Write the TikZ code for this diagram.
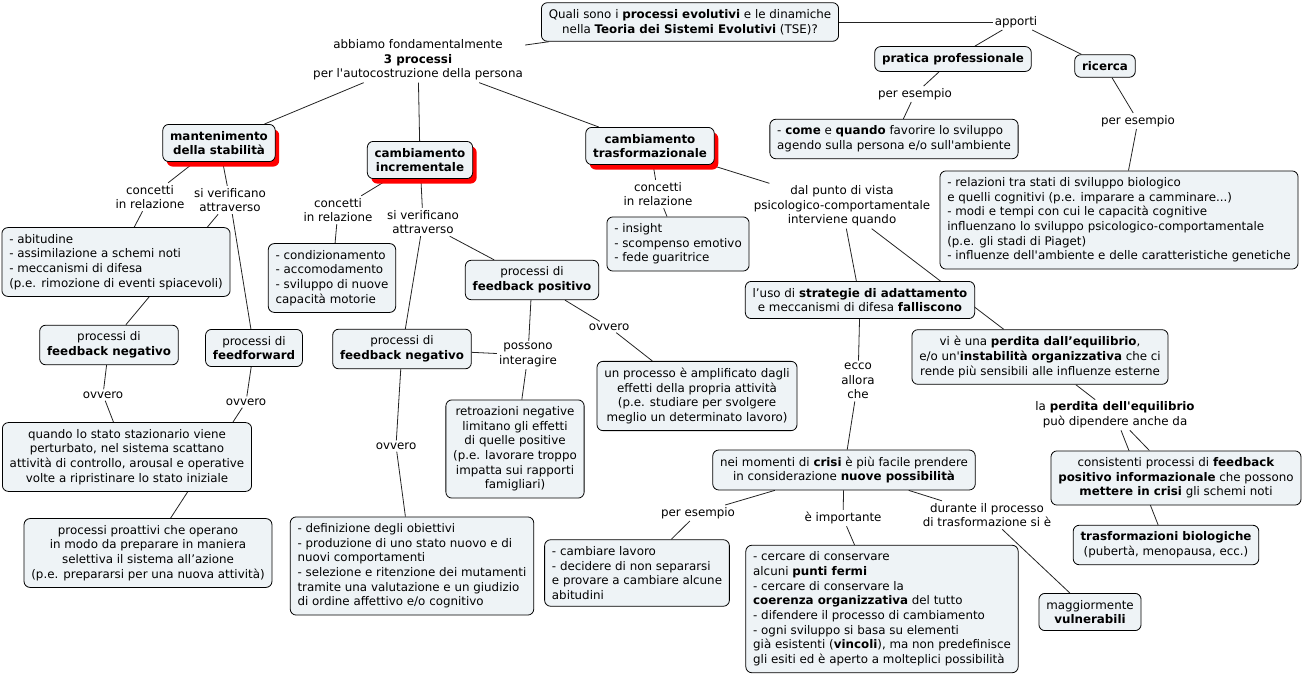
\documentclass[tikz,border=0pt]{standalone}
\usepackage{fontspec}
\newfontfamily\cmapfont{DejaVu Sans}
\usetikzlibrary{shadows,backgrounds}
\definecolor{cmapfill}{RGB}{238,243,246}
\definecolor{cmapline}{RGB}{35,35,35}

\begin{document}
\begin{tikzpicture}[x=0.75pt,y=-0.75pt,
  font=\cmapfont\fontsize{8.9}{11}\selectfont,
  concept/.style={draw, fill=cmapfill, rounded corners=4.5pt, align=center,
    inner xsep=5.5pt, inner ysep=5pt, line width=0.6pt},
  leftconcept/.style={concept, align=left},
  process/.style={concept, drop shadow={shadow xshift=3pt, shadow yshift=-3.75pt,
    fill=red, opacity=1}},
  linkphrase/.style={align=center, inner sep=1.5pt},
  link/.style={draw=cmapline, line width=0.6pt}]
\useasboundingbox (0,0) rectangle (1306,677);

% question and contributions
\node[concept] (quest) at (690,22) {Quali sono i \textbf{processi evolutivi} e le dinamiche\\nella \textbf{Teoria dei Sistemi Evolutivi} (TSE)?};
\node[linkphrase] (treproc) at (418,60) {abbiamo fondamentalmente\\\textbf{3 processi}\\per l'autocostruzione della persona};
\node[linkphrase] (apporti) at (1016,22) {apporti};
\node[concept] (pratica) at (953,59) {\textbf{pratica professionale}};
\node[concept] (ricerca) at (1105,66) {\textbf{ricerca}};
\node[linkphrase] (esprat) at (915,94) {per esempio};
\node[linkphrase] (esric) at (1138,121) {per esempio};
\node[leftconcept] (comequando) at (894,139) {- \textbf{come} e \textbf{quando} favorire lo sviluppo\\agendo sulla persona e/o sull'ambiente};
\node[leftconcept] (relazioni) at (1119,220) {- relazioni tra stati di sviluppo biologico\\e quelli cognitivi (p.e. imparare a camminare...)\\- modi e tempi con cui le capacità cognitive\\influenzano lo sviluppo psicologico-comportamentale\\(p.e. gli stadi di Piaget)\\- influenze dell'ambiente e delle caratteristiche genetiche};

% the three processes
\node[process] (mant) at (219,143) {\textbf{mantenimento}\\\textbf{della stabilità}};
\node[process] (incr) at (420,160) {\textbf{cambiamento}\\\textbf{incrementale}};
\node[process] (trasf) at (650,146) {\textbf{cambiamento}\\\textbf{trasformazionale}};

% mantenimento della stabilita'
\node[linkphrase] (relmant) at (150,197) {concetti\\in relazione};
\node[linkphrase] (vermant) at (230,200) {si verificano\\attraverso};
\node[leftconcept] (abitudine) at (116,262) {- abitudine\\- assimilazione a schemi noti\\- meccanismi di difesa\\(p.e. rimozione di eventi spiacevoli)};
\node[concept] (fbnegmant) at (109,345) {processi di\\\textbf{feedback negativo}};
\node[concept] (ffwd) at (254,348) {processi di\\\textbf{feedforward}};
\node[linkphrase] (ovvneg) at (103,395) {ovvero};
\node[linkphrase] (ovvffwd) at (246,402) {ovvero};
\node[concept] (stazion) at (127,457) {quando lo stato stazionario viene\\perturbato, nel sistema scattano\\attività di controllo, arousal e operative\\volte a ripristinare lo stato iniziale};
\node[concept] (proatt) at (148,553) {processi proattivi che operano\\in modo da preparare in maniera\\selettiva il sistema all’azione\\(p.e. prepararsi per una nuova attività)};

% cambiamento incrementale
\node[linkphrase] (relincr) at (338,210) {concetti\\in relazione};
\node[linkphrase] (verincr) at (423,222) {si verificano\\attraverso};
\node[leftconcept] (condiz) at (332,278) {- condizionamento\\- accomodamento\\- sviluppo di nuove\\capacità motorie};
\node[concept] (fbnegincr) at (402,349) {processi di\\\textbf{feedback negativo}};
\node[concept] (fbpos) at (532,280) {processi di\\\textbf{feedback positivo}};
\node[linkphrase] (interag) at (528,355) {possono\\interagire};
\node[linkphrase] (ovvpos) at (609,327) {ovvero};
\node[linkphrase] (ovvincr) at (396,446) {ovvero};
\node[concept] (amplif) at (697,396) {un processo è amplificato dagli\\effetti della propria attività\\(p.e. studiare per svolgere\\meglio un determinato lavoro)};
\node[concept] (retro) at (515,449) {retroazioni negative\\limitano gli effetti\\di quelle positive\\(p.e. lavorare troppo\\impatta sui rapporti\\famigliari)};
\node[leftconcept] (obiett) at (412,566) {- definizione degli obiettivi\\- produzione di uno stato nuovo e di\\nuovi comportamenti\\- selezione e ritenzione dei mutamenti\\tramite una valutazione e un giudizio\\di ordine affettivo e/o cognitivo};

% cambiamento trasformazionale
\node[linkphrase] (reltrasf) at (658,194) {concetti\\in relazione};
\node[leftconcept] (insight) at (678,244) {- insight\\- scompenso emotivo\\- fede guaritrice};
\node[linkphrase] (puntovista) at (842,206) {dal punto di vista\\psicologico-comportamentale\\interviene quando};
\node[concept] (strategie) at (860,300) {l’uso di \textbf{strategie di adattamento}\\e meccanismi di difesa \textbf{falliscono}};
\node[concept] (perdita) at (1040,357) {vi è una \textbf{perdita dall’equilibrio},\\e/o un'\textbf{instabilità organizzativa} che ci\\rende più sensibili alle influenze esterne};
\node[linkphrase] (ecco) at (858,381) {ecco\\allora\\che};
\node[linkphrase] (dipende) at (1115,415) {la \textbf{perdita dell'equilibrio}\\può dipendere anche da};
\node[concept] (consist) at (1176,478) {consistenti processi di \textbf{feedback}\\\textbf{positivo informazionale} che possono\\\textbf{mettere in crisi} gli schemi noti};
\node[concept] (biolog) at (1166,545) {\textbf{trasformazioni biologiche}\\(pubertà, menopausa, ecc.)};
\node[concept] (crisi) at (844,470) {nei momenti di \textbf{crisi} è più facile prendere\\in considerazione \textbf{nuove possibilità}};
\node[linkphrase] (escrisi) at (698,513) {per esempio};
\node[linkphrase] (importa) at (843,518) {è importante};
\node[linkphrase] (durante) at (987,515) {durante il processo\\di trasformazione si è};
\node[leftconcept] (cambiare) at (637,573) {- cambiare lavoro\\- decidere di non separarsi\\e provare a cambiare alcune\\abitudini};
\node[leftconcept] (conserv) at (882,609) {- cercare di conservare\\alcuni \textbf{punti fermi}\\- cercare di conservare la\\\textbf{coerenza organizzativa} del tutto\\- difendere il processo di cambiamento\\- ogni sviluppo si basa su elementi\\già esistenti (\textbf{vincoli}), ma non predefinisce\\gli esiti ed è aperto a molteplici possibilità};
\node[concept] (vulner) at (1090,612) {maggiormente\\\textbf{vulnerabili}};

\begin{pgfonlayer}{background}
\foreach \from/\to in {quest/treproc, treproc/mant, treproc/incr, treproc/trasf,
  quest/apporti, apporti/pratica, apporti/ricerca, pratica/esprat, esprat/comequando,
  ricerca/esric, esric/relazioni,
  mant/relmant, relmant/abitudine, mant/vermant, vermant/fbnegmant, vermant/ffwd,
  fbnegmant/ovvneg, ovvneg/stazion, ffwd/ovvffwd, ovvffwd/proatt,
  incr/relincr, relincr/condiz, incr/verincr, verincr/fbnegincr, verincr/fbpos,
  fbpos/interag, fbnegincr/interag, interag/retro, fbpos/ovvpos, ovvpos/amplif,
  fbnegincr/ovvincr, ovvincr/obiett,
  trasf/reltrasf, reltrasf/insight, trasf/puntovista, puntovista/strategie, puntovista/perdita,
  strategie/ecco, ecco/crisi, perdita/dipende, dipende/consist, dipende/biolog,
  crisi/escrisi, escrisi/cambiare, crisi/importa, importa/conserv, crisi/durante, durante/vulner}
  \draw[link] (\from) -- (\to);
\end{pgfonlayer}
\end{tikzpicture}
\end{document}
